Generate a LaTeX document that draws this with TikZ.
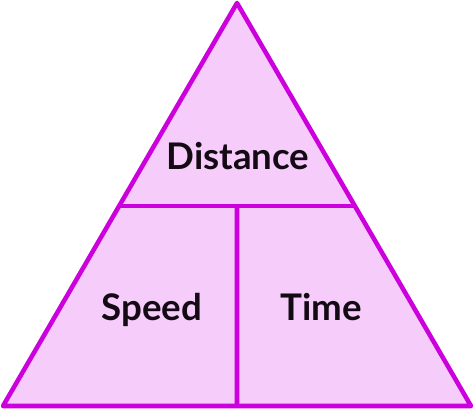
\documentclass[tikz,border=0pt]{standalone}
\usepackage{fontspec}
\setmainfont{Lato}
\usepackage[usenames,dvipsnames]{xcolor}
\usetikzlibrary{calc}

\definecolor{triedge}{HTML}{CC00DD}
\definecolor{trifill}{HTML}{F5CCFA}
\definecolor{wordink}{HTML}{140A14}

\begin{document}
\begin{tikzpicture}[x=0.75pt, y=-0.75pt, edge/.style={triedge, line width=3.4pt, line join=round}, word/.style={anchor=base, text=wordink, font=\bfseries\fontsize{27.5}{32}\selectfont}]
		\useasboundingbox (0, 0) rectangle (474, 411);
		\coordinate (apex) at (237, 3);
		\coordinate (bl) at (3, 406);
		\coordinate (br) at (471, 406);
		\coordinate (ml) at ($(apex)!0.504!(bl)$);
		\coordinate (mr) at ($(apex)!0.504!(br)$);
		\coordinate (mid) at ($(ml)!0.5!(mr)$);
		\coordinate (bm) at ($(bl)!0.5!(br)$);

		\fill[trifill] (apex) -- (bl) -- (br) -- cycle;
		\draw[edge] (ml) -- (mr);
		\draw[edge] (mid) -- (bm);
		\draw[edge] (apex) -- (bl) -- (br) -- cycle;

		\draw (238, 169) node[word] (dist)    {Distance};
		\draw (152, 320) node[word] (speed)    {Speed};
		\draw (321, 320) node[word] (time)    {Time};
\end{tikzpicture}
\end{document}
